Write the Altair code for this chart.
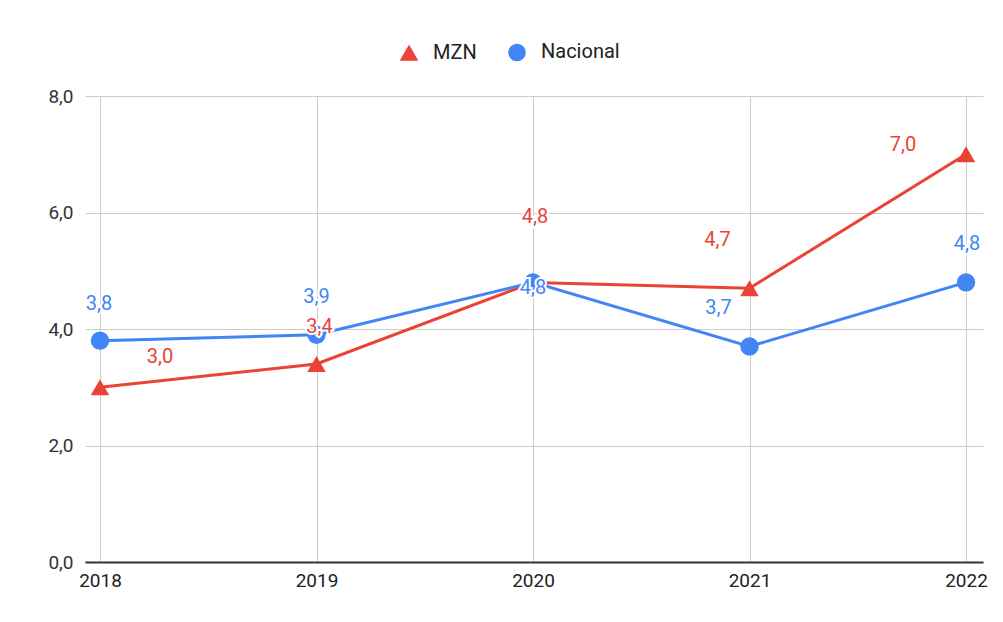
import altair as alt
import pandas as pd

years = [2018, 2019, 2020, 2021, 2022]
series_names = ["MZN", "Nacional"]
mzn = [3.0, 3.4, 4.8, 4.7, 7.0]
nacional = [3.8, 3.9, 4.8, 3.7, 4.8]

# label offsets in pixels (style), per point
mzn_label_dx = [60, 3, 2, -32, -63]
mzn_label_dy = [-30, -37, -65, -48, -9]
nac_label_dx = [-1, 0, 0, -31, 1]
nac_label_dy = [-37, -38, 6, -38, -38]

PX_PER_YEAR = 216.5
PX_PER_UNIT = 58.25

rows = []
for s, vals, ldx, ldy in [("MZN", mzn, mzn_label_dx, mzn_label_dy),
                          ("Nacional", nacional, nac_label_dx, nac_label_dy)]:
    for y, v, dx, dy in zip(years, vals, ldx, ldy):
        rows.append({
            "year": y, "value": v, "series": s,
            "label": f"{v:.1f}".replace(".", ","),
            "lx": y + dx / PX_PER_YEAR,
            "ly": v - dy / PX_PER_UNIT,
        })
df = pd.DataFrame(rows)

colors = ["#ea4335", "#4285f4"]
xscale = alt.Scale(domain=[2018 - 15 / PX_PER_YEAR, 2022 + 17 / PX_PER_YEAR], nice=False, zero=False)
yscale = alt.Scale(domain=[0, 8], nice=False)
cscale = alt.Scale(domain=series_names, range=colors)
sscale = alt.Scale(domain=series_names, range=["triangle-up", "circle"])

x_axis = alt.Axis(values=years, format="d", title=None, ticks=False, grid=True,
                  gridColor="#cccccc", domainColor="#333333", domainWidth=2,
                  labelFont="Roboto", labelFontSize=19, labelColor="#222222",
                  labelPadding=9)
y_axis = alt.Axis(values=[0, 2, 4, 6, 8], title=None, ticks=False, domain=False,
                  gridColor="#cccccc", labelFont="Roboto", labelFontSize=19,
                  labelColor="#333333", labelPadding=12,
                  labelExpr="replace(format(datum.value, '.1f'), '.', ',')")

leg = alt.Legend(title=None, orient="none", direction="horizontal",
                 legendX=314, legendY=-54)

base = alt.Chart(df)

lines = base.mark_line(strokeWidth=3).encode(
    x=alt.X("year:Q", scale=xscale, axis=x_axis),
    y=alt.Y("value:Q", scale=yscale, axis=y_axis),
    color=alt.Color("series:N", scale=cscale, legend=leg),
    detail="series:N",
)

points = base.mark_point(filled=True, opacity=1, size=340).encode(
    x=alt.X("year:Q", scale=xscale),
    y=alt.Y("value:Q", scale=yscale),
    color=alt.Color("series:N", scale=cscale, legend=leg),
    shape=alt.Shape("series:N", scale=sscale, legend=leg),
)

halo = base.mark_text(font="Roboto", fontSize=20, baseline="middle", align="center",
                      stroke="white", strokeWidth=4, fill="white").encode(
    x=alt.X("lx:Q", scale=xscale),
    y=alt.Y("ly:Q", scale=yscale),
    text="label:N",
)

labels = base.mark_text(font="Roboto", fontSize=20, baseline="middle", align="center").encode(
    x=alt.X("lx:Q", scale=xscale),
    y=alt.Y("ly:Q", scale=yscale),
    text="label:N",
    color=alt.Color("series:N", scale=cscale, legend=leg),
)

chart = alt.layer(lines, points, halo, labels).properties(
    width=898, height=466,
    autosize=alt.AutoSizeParams(type="none"),
    padding={"left": 77, "top": 88, "right": 12, "bottom": 45},
    background="white",
).configure_view(stroke=None).configure_legend(
    labelFont="Roboto", labelFontSize=20, labelColor="#222222",
    symbolSize=260, labelOffset=14, columnPadding=28,
)

chart.save("out.html", embed_options={"renderer": "svg", "actions": False})
